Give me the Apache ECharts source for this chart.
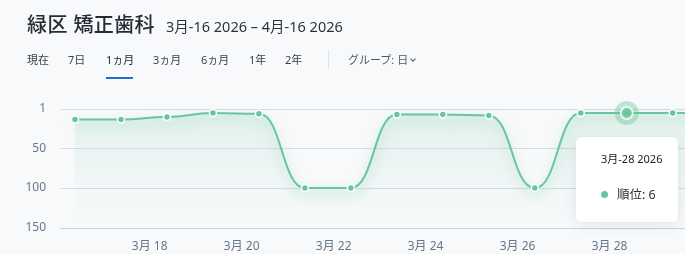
<!DOCTYPE html>
<html>
<head>
<meta charset="utf-8">
<script src="https://cdn.jsdelivr.net/npm/echarts@6/dist/echarts.min.js"></script>
<style>
  html, body { margin: 0; padding: 0; width: 685px; height: 254px; overflow: hidden; background: #f8f9fb;
    font-family: 'Noto Sans', 'Noto Sans CJK JP', sans-serif; }
  #chart { position: absolute; left: 0; top: 0; width: 685px; height: 254px; }
  .head { position: absolute; left: 27px; top: 9px; white-space: nowrap; color: #262b35; z-index: 2; }
  .head .title { font-size: 20px; font-weight: 500; letter-spacing: 0.4px; }
  .head .range { font-size: 14.5px; margin-left: 11px; color: #2d323c; }
  .tab { position: absolute; top: 52px; font-size: 11px; line-height: 16px; color: #3b414d; white-space: nowrap; z-index: 2; }
  .tab.active { color: #1f2430; }
  .underline { position: absolute; left: 106px; top: 77px; width: 27px; height: 2px; background: #1f6fd1; z-index: 2; }
  .divider { position: absolute; left: 328px; top: 50px; width: 1px; height: 19px; background: #dde1e8; z-index: 2; }
  .group { position: absolute; left: 348px; top: 52px; font-size: 11px; line-height: 16px; color: #4f5664; white-space: nowrap; z-index: 2; }
  .chev { display: inline-block; width: 3px; height: 3px; border-right: 1.2px solid #4f5664; border-bottom: 1.2px solid #4f5664;
    transform: rotate(45deg); margin-left: 3px; position: relative; top: -3px; }
</style>
</head>
<body>
<div id="chart"></div>
<div class="head"><span class="title">緑区 矯正歯科</span><span class="range">3月-16 2026 – 4月-16 2026</span></div>
<div class="tab" style="left:27px">現在</div>
<div class="tab" style="left:68px">7日</div>
<div class="tab active" style="left:106px">1ヵ月</div>
<div class="tab" style="left:153px">3ヵ月</div>
<div class="tab" style="left:201px">6ヵ月</div>
<div class="tab" style="left:249px">1年</div>
<div class="tab" style="left:285px">2年</div>
<div class="underline"></div>
<div class="divider"></div>
<div class="group">グループ: 日<span class="chev"></span></div>
<script>
// Daily ranking samples (recorded at 09:00 each day)
const dates = ['2026-03-16', '2026-03-17', '2026-03-18', '2026-03-19', '2026-03-20',
               '2026-03-21', '2026-03-22', '2026-03-23', '2026-03-24', '2026-03-25',
               '2026-03-26', '2026-03-27', '2026-03-28', '2026-03-29', '2026-03-30'];
const ranks = [14, 14, 11, 6, 7, 100, 100, 8, 8, 9, 100, 6, 6, 6, 6];
const seriesName = '順位';

// Axis labels
const xTickDates = ['2026-03-18', '2026-03-20', '2026-03-22', '2026-03-24', '2026-03-26', '2026-03-28'];
const yTicks = [1, 50, 100, 150];

// Day shown with the tooltip
const focusDate = '2026-03-28';

const SAMPLE_HOUR = 9;
const HOUR = 3600 * 1000;
const DAY = 24 * HOUR;
function toTime(d, hour) {
  const [y, m, dd] = d.split('-').map(Number);
  return Date.UTC(y, m - 1, dd, hour || 0);
}

const GREEN = '#68c59c';
const xMin = toTime(dates[0], SAMPLE_HOUR) - 0.3045 * DAY;
const xMax = xMin + 13.571 * DAY;

const lineData = dates.map((d, i) => [toTime(d, SAMPLE_HOUR), ranks[i]]);
const focusIndex = dates.indexOf(focusDate);
const focusData = [lineData[focusIndex]];

const chart = echarts.init(document.getElementById('chart'), null, { renderer: 'canvas' });

chart.setOption({
  animation: false,
  backgroundColor: 'transparent',
  textStyle: { fontFamily: "'Noto Sans', 'Noto Sans CJK JP', sans-serif" },
  grid: { left: 61, right: 0, top: 109, bottom: 26, containLabel: false },
  xAxis: {
    type: 'value',
    min: xMin,
    max: xMax,
    axisLine: { show: true, onZero: false, lineStyle: { color: '#c6d0e2', width: 1 } },
    axisTick: { show: false, customValues: xTickDates.map(d => toTime(d)) },
    splitLine: { show: false },
    axisLabel: {
      customValues: xTickDates.map(d => toTime(d)),
      formatter: v => { const d = new Date(v); return (d.getUTCMonth() + 1) + '月 ' + d.getUTCDate(); },
      color: '#66768b',
      fontSize: 12,
      margin: 13
    }
  },
  yAxis: {
    type: 'value',
    inverse: true,
    min: 1,
    max: 150,
    axisLine: { show: false },
    axisTick: { show: false, customValues: yTicks },
    axisLabel: { customValues: yTicks, color: '#66768b', fontSize: 12, margin: 15 },
    splitLine: { show: true, lineStyle: { color: '#d8dce3', width: 1 } }
  },
  tooltip: {
    trigger: 'item',
    triggerOn: 'none',
    alwaysShowContent: true,
    backgroundColor: '#ffffff',
    borderWidth: 0,
    padding: 0,
    extraCssText: 'border-radius:6px;box-shadow:0 3px 14px rgba(40,60,90,0.10);',
    position: (point) => [point[0] - 51, point[1] + 24],
    formatter: (p) => {
      const d = new Date(p.value[0]);
      const title = (d.getUTCMonth() + 1) + '月-' + d.getUTCDate() + ' ' + d.getUTCFullYear();
      return '<div style="padding:15px 16px 19px 25px;font-family:\'Noto Sans\',\'Noto Sans CJK JP\',sans-serif;">' +
        '<div style="font-size:11px;line-height:14px;color:#222;">' + title + '</div>' +
        '<div style="margin-top:21px;font-size:12.5px;line-height:16px;color:#2b2f36;white-space:nowrap;">' +
        '<span style="display:inline-block;width:7px;height:7px;border-radius:50%;background:' + GREEN +
        ';margin-right:9px;position:relative;top:-1px;"></span>' + p.seriesName + ': ' + p.value[1] + '</div></div>';
    }
  },
  series: [
    {
      type: 'line',
      name: seriesName,
      data: lineData,
      smooth: 0.5,
      smoothMonotone: 'x',
      symbol: 'circle',
      symbolSize: 7,
      showSymbol: true,
      clip: true,
      lineStyle: { color: GREEN, width: 2, shadowColor: 'rgba(70,185,135,0.55)', shadowBlur: 12, shadowOffsetY: 5 },
      itemStyle: { color: GREEN, borderColor: '#ffffff', borderWidth: 1.5 },
      areaStyle: {
        origin: 'end',
        color: {
          type: 'linear', x: 0, y: 0, x2: 0, y2: 1,
          colorStops: [
            { offset: 0, color: 'rgba(104,197,156,0.20)' },
            { offset: 0.6, color: 'rgba(104,197,156,0.07)' },
            { offset: 1, color: 'rgba(104,197,156,0.0)' }
          ]
        }
      },
      emphasis: { scale: false }
    },
    {
      type: 'scatter',
      name: 'halo',
      data: focusData,
      symbolSize: 24,
      silent: true,
      itemStyle: { color: 'rgba(104,197,156,0.5)' },
      tooltip: { show: false },
      z: 3
    },
    {
      type: 'scatter',
      name: 'focus',
      data: focusData,
      symbolSize: 12,
      silent: true,
      itemStyle: { color: GREEN, borderColor: '#ffffff', borderWidth: 2 },
      tooltip: { show: false },
      z: 4
    }
  ]
});

chart.dispatchAction({ type: 'showTip', seriesIndex: 0, dataIndex: focusIndex });
</script>
</body>
</html>
